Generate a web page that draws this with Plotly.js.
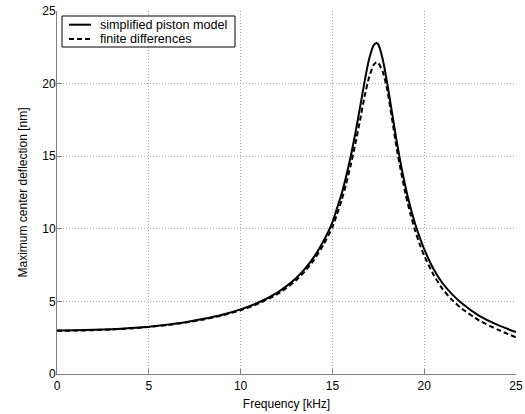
<!DOCTYPE html>
<html>
<head>
<meta charset="utf-8">
<script src="https://cdn.plot.ly/plotly-3.0.1.min.js"></script>
<style>html,body{margin:0;padding:0;background:#fff;}#chart{width:525px;height:414px;}</style>
</head>
<body>
<div id="chart"></div>
<script>
// Frequency [kHz]
const freq = [0, 1, 2, 3, 4, 5, 6, 7, 8, 9, 10, 11, 12, 12.5, 13, 13.5, 14, 14.5, 15, 15.25, 15.5, 15.75, 16, 16.25, 16.5, 16.75, 17, 17.25, 17.4, 17.5, 17.75, 18, 18.25, 18.5, 18.75, 19, 19.25, 19.5, 19.75, 20, 20.5, 21, 21.5, 22, 23, 24, 25];
// simplified piston model [nm]
const piston = [3.00, 3.01, 3.04, 3.09, 3.16, 3.26, 3.40, 3.57, 3.80, 4.08, 4.45, 4.94, 5.61, 6.05, 6.58, 7.24, 8.07, 9.13, 10.45, 11.41, 12.40, 13.62, 15.00, 16.58, 18.33, 20.12, 21.69, 22.65, 22.80, 22.70, 21.63, 19.93, 17.98, 16.04, 14.30, 12.78, 11.48, 10.37, 9.43, 8.60, 7.25, 6.25, 5.52, 4.92, 4.00, 3.38, 2.88];
// finite differences [nm]
const finite = [2.98, 2.99, 3.02, 3.07, 3.14, 3.24, 3.37, 3.54, 3.76, 4.03, 4.39, 4.86, 5.50, 5.92, 6.43, 7.07, 7.86, 8.88, 10.10, 11.00, 11.95, 13.10, 14.40, 15.85, 17.45, 19.10, 20.45, 21.30, 21.47, 21.42, 20.80, 19.50, 17.55, 15.55, 13.85, 12.30, 11.00, 9.90, 8.95, 8.15, 6.85, 5.85, 5.12, 4.55, 3.68, 3.06, 2.52];
const xTicks = [0, 5, 10, 15, 20, 25];
const yTicks = [0, 5, 10, 15, 20, 25];
const seriesNames = ['simplified piston model', 'finite differences'];

const font = 'Liberation Sans, Arial, Helvetica, sans-serif';
const traces = [
  {x: freq, y: piston, type: 'scatter', mode: 'lines', name: seriesNames[0],
   line: {color: '#000', width: 2, shape: 'spline', smoothing: 0.5}},
  {x: freq, y: finite, type: 'scatter', mode: 'lines', name: seriesNames[1],
   line: {color: '#000', width: 2, dash: '5px,3px', shape: 'spline', smoothing: 0.5}}
];
const axisCommon = {
  showline: true, linecolor: '#7f7f7f', linewidth: 1, mirror: false,
  ticks: 'inside', ticklen: 5, tickcolor: '#7f7f7f',
  showgrid: true, gridcolor: '#a8a8a8', griddash: '1px,2px', gridwidth: 1,
  zeroline: false, tickfont: {family: font, size: 12, color: '#000'}
};
// manual legend (paper coordinates)
const lg = {x0: 0.0109, x1: 0.3878, y0: 0.9008, y1: 0.9862, sx0: 0.0261, sx1: 0.0741, tx: 0.0887, rows: [0.9623, 0.9229]};
const shapes = [
  {type: 'rect', xref: 'paper', yref: 'paper', x0: lg.x0, x1: lg.x1, y0: lg.y0, y1: lg.y1,
   line: {color: '#000', width: 1}, fillcolor: '#fff', layer: 'above'},
  {type: 'line', xref: 'paper', yref: 'paper', x0: lg.sx0, x1: lg.sx1, y0: lg.rows[0], y1: lg.rows[0],
   line: {color: '#000', width: 2}, layer: 'above'},
  {type: 'line', xref: 'paper', yref: 'paper', x0: lg.sx0, x1: lg.sx1, y0: lg.rows[1], y1: lg.rows[1],
   line: {color: '#000', width: 2, dash: '5px,3px'}, layer: 'above'}
];
const annotations = seriesNames.map((n, i) => ({
  xref: 'paper', yref: 'paper', x: lg.tx, y: lg.rows[i], xanchor: 'left', yanchor: 'middle',
  text: n, showarrow: false, font: {family: font, size: 12.6, color: '#000'}
}));
const layout = {
  width: 525, height: 414,
  margin: {l: 57, r: 9, t: 11, b: 40},
  paper_bgcolor: '#fff', plot_bgcolor: '#fff',
  font: {family: font, color: '#000'},
  showlegend: false,
  shapes: shapes, annotations: annotations,
  xaxis: Object.assign({}, axisCommon, {range: [0, 25], tickvals: xTicks, ticktext: xTicks.map(String),
    ticklabelstandoff: 1,
    title: {text: 'Frequency [kHz]', font: {family: font, size: 12}, standoff: 7}}),
  yaxis: Object.assign({}, axisCommon, {range: [0, 25], tickvals: yTicks, ticktext: yTicks.map(String),
    ticklabelstandoff: -2,
    title: {text: 'Maximum center deflection [nm]', font: {family: font, size: 12}, standoff: 12}})
};
Plotly.newPlot('chart', traces, layout, {displayModeBar: false, staticPlot: true});
</script>
</body>
</html>
